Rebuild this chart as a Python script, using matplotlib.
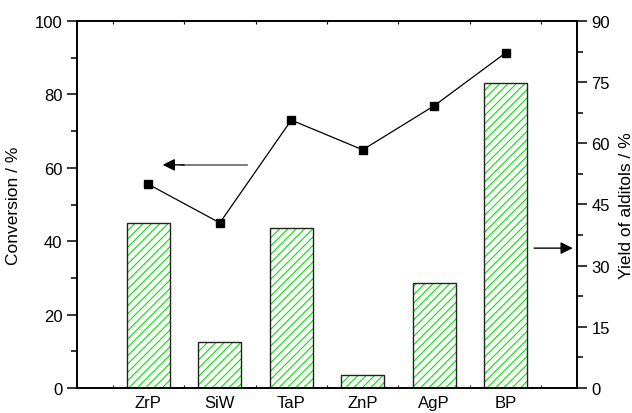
import matplotlib.pyplot as plt
import numpy as np

plt.rcParams['font.family'] = ['Liberation Sans', 'DejaVu Sans']
plt.rcParams['font.size'] = 12
plt.rcParams['hatch.linewidth'] = 0.8

catalysts = ['ZrP', 'SiW', 'TaP', 'ZnP', 'AgP', 'BP']
conversion = [55.5, 45.0, 73.0, 64.9, 76.9, 91.3]   # % (left axis, line)
yield_alditols = [40.5, 11.2, 39.2, 3.3, 25.7, 74.9]  # % (right axis, bars)

x = np.arange(1, len(catalysts) + 1)

fig = plt.figure(figsize=(6.32, 4.14), dpi=100)
ax = fig.add_axes([77/632, 1 - 389/414, 500/632, 367/414])
ax2 = ax.twinx()

# bars: green hatch first, then black outline on top
ax2.bar(x, yield_alditols, width=0.6, color='none', edgecolor='#00e600',
        hatch='////', linewidth=0)
ax2.bar(x, yield_alditols, width=0.6, fill=False, edgecolor='#222222',
        linewidth=1.0)

# conversion line drawn above the bars
ax.set_zorder(ax2.get_zorder() + 1)
ax.patch.set_visible(False)
ax.plot(x, conversion, color='black', lw=0.9, marker='s', ms=5.8)

# arrows pointing to the relevant axis
ax.plot([1.45, 2.38], [60.8, 60.8], color='#666666', lw=1.2)
ax.annotate('', xy=(1.2, 60.8), xytext=(1.5, 60.8),
            arrowprops=dict(arrowstyle='-|>', color='black', lw=1.0,
                            mutation_scale=18, shrinkA=0, shrinkB=0))
ax2.annotate('', xy=(6.94, 34.3), xytext=(6.4, 34.3),
             arrowprops=dict(arrowstyle='-|>', color='black', lw=1.0,
                             mutation_scale=18, shrinkA=0, shrinkB=0))

ax.set_xlim(0, 7)
ax.set_ylim(0, 100)
ax2.set_ylim(0, 90)
ax.set_xticks(x)
ax.set_xticklabels(catalysts)
ax.set_xticks(np.arange(0.5, 7, 1), minor=True)
ax.set_yticks(np.arange(0, 101, 20))
ax.set_yticks(np.arange(10, 100, 20), minor=True)
ax2.set_yticks(np.arange(0, 91, 15))
ax2.set_yticks(np.arange(7.5, 90, 15), minor=True)

ax.tick_params(axis='y', which='major', direction='out', length=7, width=1.1)
ax.tick_params(axis='y', which='minor', direction='out', length=4, width=1.1)
ax.tick_params(axis='x', which='major', length=0, pad=5)
ax.tick_params(axis='x', which='minor', direction='in', length=2.5,
               top=True, width=0.8)
ax2.tick_params(axis='y', which='major', direction='out', length=7, width=1.1)
ax2.tick_params(axis='y', which='minor', direction='out', length=4, width=1.1)

for a in (ax, ax2):
    for s in a.spines.values():
        s.set_linewidth(1.2)

ax.set_ylabel('Conversion / %', fontsize=12.5, labelpad=10)
ax2.set_ylabel('Yield of alditols / %', fontsize=12.5, labelpad=6)

fig.savefig('out.png', dpi=100)
